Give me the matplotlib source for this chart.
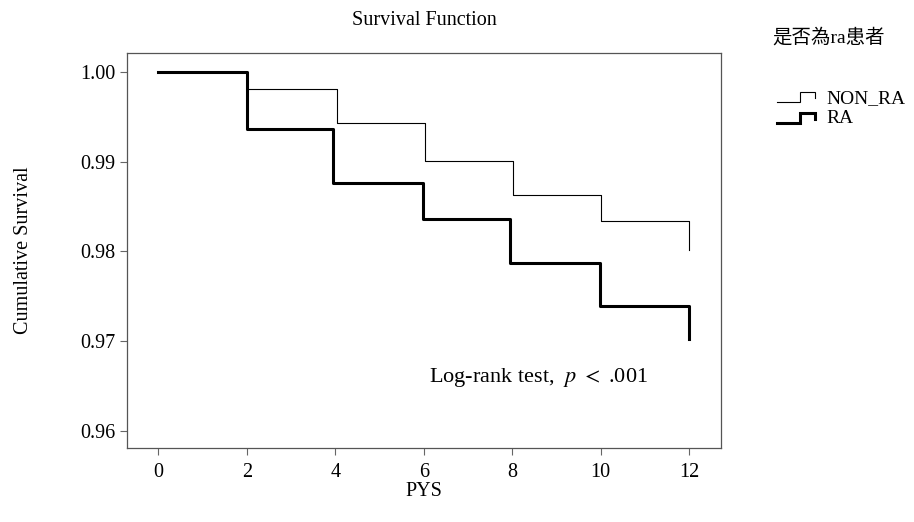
import matplotlib
matplotlib.use("Agg")
import matplotlib.pyplot as plt
from matplotlib.lines import Line2D
from matplotlib.legend_handler import HandlerBase

plt.rcParams['font.family'] = ['Liberation Serif', 'Noto Sans CJK TC']
plt.rcParams['mathtext.fontset'] = 'stix'

# Datos (Kaplan-Meier, pasos en cada tiempo)
tiempos_non_ra = [0, 2.0, 4.05, 6.03, 8.02, 10.0, 12.0]
surv_non_ra = [1.0, 0.9981, 0.9943, 0.9901, 0.9863, 0.9834, 0.9802]
tiempos_ra = [0, 2.0, 3.95, 5.99, 7.96, 9.99, 12.0]
surv_ra = [1.0, 0.9937, 0.9876, 0.9836, 0.9787, 0.9739, 0.9702]

grupos = ['NON_RA', 'RA']
x_ticks = [0, 2, 4, 6, 8, 10, 12]
y_ticks = [0.96, 0.97, 0.98, 0.99, 1.00]


class HandlerEscalon(HandlerBase):
    """Dibuja un pequeño escalón como en la leyenda de SPSS."""
    def create_artists(self, legend, orig_handle, xdescent, ydescent,
                       width, height, fontsize, trans):
        x0 = -xdescent
        y0 = -ydescent + height * 0.05
        h = height * 0.75
        xs = [x0, x0 + width * 0.62, x0 + width * 0.62, x0 + width, x0 + width]
        ys = [y0, y0, y0 + h, y0 + h, y0 + h * 0.4]
        linea = Line2D(xs, ys, color=orig_handle.get_color(),
                       linewidth=orig_handle.get_linewidth(),
                       solid_joinstyle='miter', transform=trans)
        return [linea]


fig = plt.figure(figsize=(9.14, 5.22), dpi=100)
ax = fig.add_axes([0.1389, 0.1418, 0.6499, 0.7567])

l1, = ax.plot(tiempos_non_ra, surv_non_ra, drawstyle='steps-post',
              color='black', linewidth=0.8, label=grupos[0])
l2, = ax.plot(tiempos_ra, surv_ra, drawstyle='steps-post',
              color='black', linewidth=2.2, label=grupos[1])

ax.set_xlim(-0.707, 12.716)
ax.set_ylim(0.95807, 1.00215)
ax.set_xticks(x_ticks)
ax.set_xticklabels([str(t) for t in x_ticks])
ax.set_yticks(y_ticks)
ax.set_yticklabels(['%.2f' % v for v in y_ticks])
ax.tick_params(direction='out', length=5, width=0.8, color='#666666',
               labelsize=14.5)
ax.tick_params(axis='y', pad=3)
ax.tick_params(axis='x', pad=6)
for s in ax.spines.values():
    s.set_color('#555555')
    s.set_linewidth(0.9)

ax.set_title('Survival Function', fontsize=14.5, pad=20)
ax.set_xlabel('PYS', fontsize=14.5, labelpad=0)
ax.set_ylabel('Cumulative Survival', fontsize=14.5, labelpad=34)

ax.text(8.6, 0.96599, r'Log-rank test, $\ p\ <\ $.001', fontsize=16,
        ha='center', va='center')

fig.text(0.845, 0.928, '是否為ra患者', fontsize=14, ha='left', va='center')
fig.legend(handles=[l1, l2], loc='upper left',
           bbox_to_anchor=(0.85, 0.829), frameon=False, fontsize=14,
           handler_map={Line2D: HandlerEscalon()}, handlelength=1.95,
           handletextpad=0.6, labelspacing=0.15, borderpad=0.0,
           borderaxespad=0.0)

plt.savefig('out.png', dpi=100)
plt.close()
